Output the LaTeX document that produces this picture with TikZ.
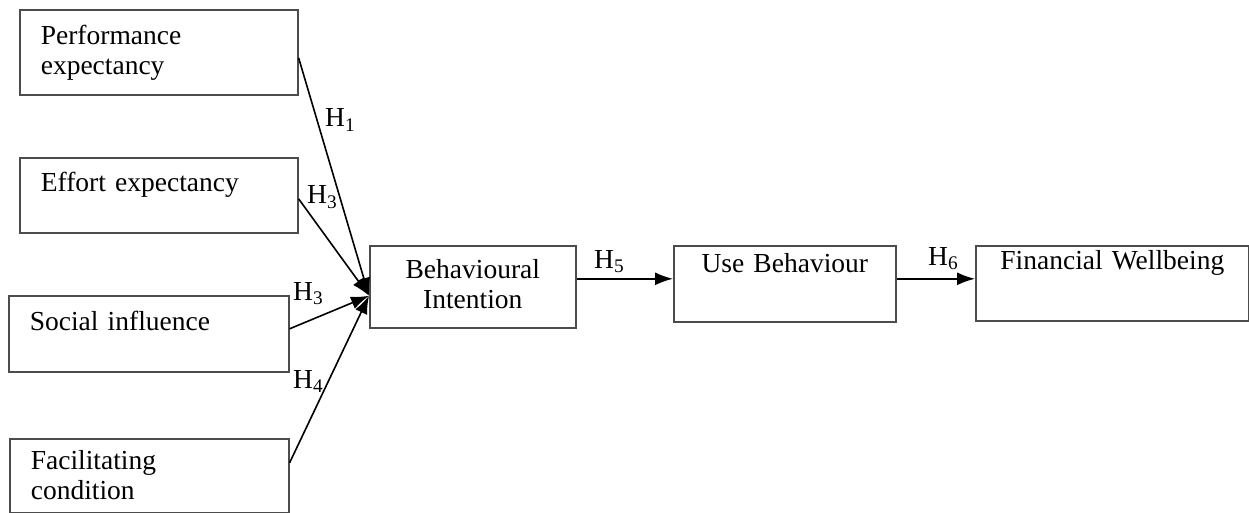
\documentclass[tikz,border=0pt]{standalone}
\usepackage{fontspec}
\setmainfont{Liberation Serif}
\usetikzlibrary{arrows.meta}

\tikzset{
	factor/.style={draw=black!70, line width=1.6pt, anchor=north west, inner ysep=0pt,
		align=left, inner xsep=21pt, font=\fontsize{27.5}{29.5}\selectfont},
	stage/.style={factor, align=center, inner xsep=5pt},
	hyp/.style={anchor=base west, inner sep=0pt, font=\fontsize{27.5}{29.5}\selectfont},
	arr/.style={-{Latex[length=18pt,width=13pt]}, line width=1.6pt}
}

\begin{document}
\begin{tikzpicture}[x=1pt, y=-1pt]
	\useasboundingbox (0,0) rectangle (1249,513);

	% constructs
	\node (PE) at (19,9) [factor, text width=236pt, text height=35pt, text depth=50pt]{Performance\\expectancy};
	\node (EE) at (19,157) [factor, text width=236pt, text height=34pt, text depth=41pt]{Effort expectancy};
	\node (SI) at (8,295) [factor, text width=238pt, text height=35pt, text depth=41pt]{Social influence};
	\node (FC) at (9,438) [factor, text width=237pt, text height=31pt, text depth=43pt]{Facilitating\\condition};

	% outcomes
	\node (BI) at (369,245) [stage, text width=196pt, text height=33pt, text depth=49pt]{Behavioural\\Intention};
	\node (UB) at (673,245) [stage, text width=212pt, text height=27pt, text depth=49pt]{Use Behaviour};
	\node (FW) at (975,245) [stage, text width=263pt, text height=24pt, text depth=51pt]{Financial Wellbeing};

	\coordinate (in) at ([yshift=-9pt]BI.west);

	% paths into intention
	\draw[arr] ([yshift=-5.5pt]PE.east) -- (in);
	\draw[arr] ([yshift=-3.5pt]EE.east) -- (in);
	\draw[arr] ([yshift=5pt]SI.east) -- (in);
	\draw[arr] ([yshift=13pt]FC.east) -- (in);

	% paths along the chain
	\draw[arr] ([yshift=5pt]BI.east |- UB.west) -- ([yshift=5pt]UB.west);
	\draw[arr] ([yshift=5pt]UB.east) -- ([yshift=5pt]FW.west |- UB.east);

	% hypotheses
	\node (h1) at (325,127) [hyp]{H\textsubscript{1}};
	\node (h2) at (307,204) [hyp]{H\textsubscript{3}};
	\node (h3) at (293,300) [hyp]{H\textsubscript{3}};
	\node (h4) at (293,388) [hyp]{H\textsubscript{4}};
	\node (h5) at (594,268) [hyp]{H\textsubscript{5}};
	\node (h6) at (928,265) [hyp]{H\textsubscript{6}};

\end{tikzpicture}
\end{document}
